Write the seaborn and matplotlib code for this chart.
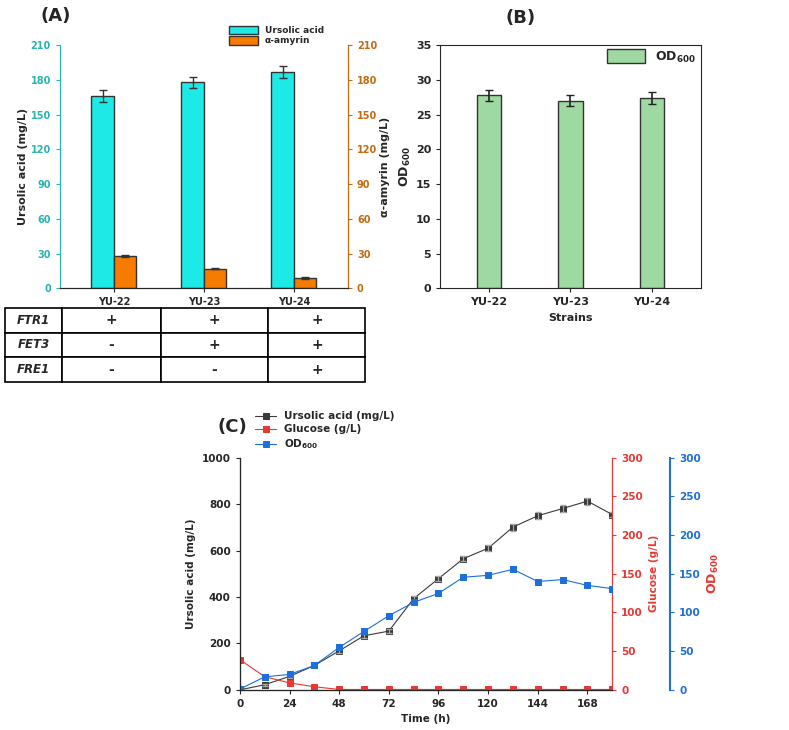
import numpy as np
import pandas as pd
import matplotlib
matplotlib.use("Agg")
import matplotlib.pyplot as plt
import seaborn as sns
from matplotlib.patches import Patch

sns.set_style("ticks")
plt.rcParams['font.family'] = ['DejaVu Sans']
plt.rcParams['font.weight'] = 'bold'

strains = ["YU-22", "YU-23", "YU-24"]
ursolic = [166, 178, 187]
ursolic_err = [5, 5, 5.5]
amyrin = [28, 17, 9]
amyrin_err = [1, 0.7, 0.5]
od_b = [27.8, 27.0, 27.4]
od_b_err = [0.8, 0.8, 0.8]
genes = ["FTR1", "FET3", "FRE1"]
gene_table = [["+", "+", "+"], ["-", "+", "+"], ["-", "-", "+"]]

time = [0, 12, 24, 36, 48, 60, 72, 84, 96, 108, 120, 132, 144, 156, 168, 180]
ua_c = [0, 22, 58, 105, 168, 233, 253, 393, 479, 565, 610, 701, 750, 781, 813, 755]
ua_c_err = [0, 5, 5, 5, 8, 8, 8, 10, 10, 12, 12, 15, 15, 15, 15, 12]
glucose = [39, 17, 9, 4, 0.5, 0.5, 0.5, 0.5, 0.5, 0.5, 0.5, 0.5, 0.5, 0.5, 0.5, 0.5]
od_c = [1, 16.8, 19.9, 31.5, 54.8, 75.5, 95.8, 113, 124.7, 145.5, 148, 155.8, 140, 142.5, 135, 130.8]

cyan = "#1de9e6"; orange = "#f57c00"; teal_t = "#27b5b0"; brown_t = "#c56a10"
green = "#9dd9a0"; red = "#e53935"; blue = "#1e6fd9"; dark = "#3a3a3a"

fig = plt.figure(figsize=(7.89, 7.3), dpi=100)

# ---------- Panel A ----------
axA = fig.add_axes([0.076, 0.605, 0.365, 0.333])
x = np.arange(3)
w = 0.25
dfA = pd.DataFrame({"strain": strains, "ua": ursolic})
sns.barplot(data=dfA, x="strain", y="ua", ax=axA, color=cyan, width=w,
            edgecolor="#333333", linewidth=1, saturation=1)
for p in axA.patches:
    p.set_x(p.get_x() - w / 2)
axA.errorbar(x - w / 2, ursolic, yerr=ursolic_err, fmt="none", ecolor="#333", capsize=3, lw=1)
axA.set_ylim(0, 210)
axA.set_yticks(range(0, 211, 30))
axA.set_xlim(-0.6, 2.6)
axA.tick_params(axis="y", colors=teal_t, labelsize=7, length=3)
axA.tick_params(axis="x", labelsize=7, length=3)
axA.set_ylabel("Ursolic acid (mg/L)", fontsize=8, fontweight="bold", labelpad=2)
axA.set_xlabel("")
axA2 = axA.twinx()
dfA2 = pd.DataFrame({"strain": strains, "am": amyrin})
sns.barplot(data=dfA2, x="strain", y="am", ax=axA2, color=orange, width=w,
            edgecolor="#333333", linewidth=1, saturation=1)
for p in axA2.patches:
    p.set_x(p.get_x() + w / 2)
axA2.errorbar(x + w / 2, amyrin, yerr=amyrin_err, fmt="none", ecolor="#333", capsize=3, lw=1)
axA2.set_ylim(0, 210)
axA2.set_yticks(range(0, 211, 30))
axA2.set_xlim(-0.6, 2.6)
axA2.tick_params(axis="y", colors=brown_t, labelsize=7, length=3)
axA2.set_ylabel("α-amyrin (mg/L)", fontsize=8, fontweight="bold", labelpad=2)
axA.spines["left"].set_color(teal_t)
axA2.spines["left"].set_color(teal_t)
axA2.spines["right"].set_color(brown_t)
for a in (axA, axA2):
    a.spines["top"].set_visible(False)
axA.legend(handles=[Patch(facecolor=cyan, edgecolor="#333", label="Ursolic acid"),
                    Patch(facecolor=orange, edgecolor="#333", label="α-amyrin")],
           loc="lower right", bbox_to_anchor=(0.93, 0.985), frameon=False, fontsize=6.5,
           handlelength=3.2, handleheight=1.1, borderaxespad=0, labelspacing=0.1)
fig.text(0.07, 0.978, "(A)", fontsize=13, fontweight="bold", ha="center", va="center")

# table
axT = fig.add_axes([0.006, 0.477, 0.457, 0.101])
axT.axis("off")
tbl = axT.table(cellText=[[g] + r for g, r in zip(genes, gene_table)],
                bbox=[0, 0, 1, 1], cellLoc="center",
                colWidths=[0.16, 0.275, 0.3, 0.27])
tbl.auto_set_font_size(False)
for (r, c), cell in tbl.get_celld().items():
    cell.set_linewidth(1.2)
    cell.get_text().set_fontweight("bold")
    cell.get_text().set_fontsize(10)
    if c == 0:
        cell.get_text().set_fontstyle("italic")
        cell.get_text().set_fontsize(8.5)

# ---------- Panel B ----------
axB = fig.add_axes([0.558, 0.605, 0.33, 0.333])
dfB = pd.DataFrame({"strain": strains, "od": od_b})
sns.barplot(data=dfB, x="strain", y="od", ax=axB, color=green, width=0.3,
            edgecolor="#333333", linewidth=1, saturation=1)
axB.errorbar(x, od_b, yerr=od_b_err, fmt="none", ecolor="#222", capsize=3, lw=1.2)
axB.set_ylim(0, 35)
axB.set_yticks(range(0, 36, 5))
axB.set_xlim(-0.6, 2.6)
axB.tick_params(labelsize=8, length=3)
axB.set_ylabel("OD$_{600}$", fontsize=9, fontweight="bold", labelpad=2)
axB.set_xlabel("Strains", fontsize=8, fontweight="bold")
axB.legend(handles=[Patch(facecolor=green, edgecolor="#333", label="OD$_{600}$")],
           loc="lower right", bbox_to_anchor=(1.0, 0.9), frameon=False, fontsize=9,
           handlelength=3, handleheight=1.3, borderaxespad=0)
fig.text(0.66, 0.975, "(B)", fontsize=13, fontweight="bold", ha="center", va="center")

# ---------- Panel C ----------
axC = fig.add_axes([0.304, 0.055, 0.472, 0.318])
dfC = pd.DataFrame({"t": time, "ua": ua_c, "glc": glucose, "od": od_c})
sns.lineplot(data=dfC, x="t", y="ua", ax=axC, color=dark, marker="s", markersize=5,
             markeredgecolor=dark, lw=0.8, label="Ursolic acid (mg/L)")
axC.errorbar(time, ua_c, yerr=ua_c_err, fmt="none", ecolor="#aaaaaa", capsize=2, lw=0.8)
axC.set_ylim(0, 1000)
axC.set_xlim(0, 180)
axC.set_xticks(range(0, 169, 24))
axC.tick_params(labelsize=7.5, length=3)
axC.set_ylabel("Ursolic acid (mg/L)", fontsize=7.5, fontweight="bold")
axC.set_xlabel("Time (h)", fontsize=7.5, fontweight="bold")
axG = axC.twinx()
sns.lineplot(data=dfC, x="t", y="glc", ax=axG, color=red, marker="s", markersize=4,
             markeredgecolor=red, lw=0.8, label="Glucose (g/L)", legend=False)
axG.set_ylim(0, 300)
axG.tick_params(axis="y", colors=red, labelsize=7.5, length=3)
axG.spines["right"].set_color(red)
axG.set_ylabel("Glucose (g/L)", color=red, fontsize=7.5, fontweight="bold")
axO = axC.twinx()
axO.spines["right"].set_position(("axes", 1.155))
sns.lineplot(data=dfC, x="t", y="od", ax=axO, color=blue, marker="s", markersize=5,
             markeredgecolor=blue, lw=0.8, label="OD$_{600}$", legend=False)
axO.set_ylim(0, 300)
axO.tick_params(axis="y", colors=blue, labelsize=7.5, length=3)
axO.spines["right"].set_color(blue)
axO.spines["right"].set_linewidth(1.5)
axO.set_ylabel("OD$_{600}$", color=red, fontsize=9, fontweight="bold")
for a in (axC, axG, axO):
    a.spines["top"].set_visible(False)
h1, l1 = axC.get_legend_handles_labels()
h2, l2 = axG.get_legend_handles_labels()
h3, l3 = axO.get_legend_handles_labels()
axC.legend(h1 + h2 + h3, l1 + l2 + l3, loc="lower left", bbox_to_anchor=(0.03, 1.01),
           frameon=False, fontsize=7.5, borderaxespad=0, labelspacing=0.3)
fig.text(0.295, 0.415, "(C)", fontsize=13, fontweight="bold", ha="center", va="center")

fig.savefig("out.png", dpi=100)
